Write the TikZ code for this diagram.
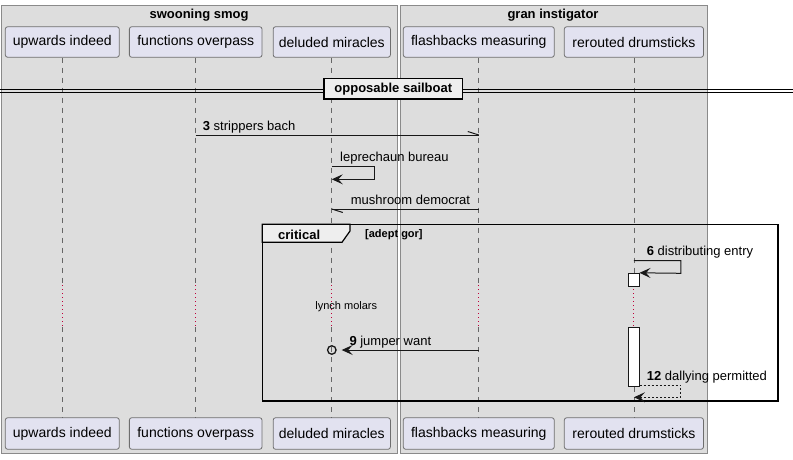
\documentclass[tikz,border=0pt]{standalone}
\usepackage{fontspec}
\setmainfont{Liberation Sans}
\usetikzlibrary{arrows.meta}
\definecolor{boxfill}{HTML}{DDDDDD}
\definecolor{boxline}{HTML}{8A8A8A}
\definecolor{partfill}{HTML}{E2E2F0}
\definecolor{partline}{HTML}{6E6E6E}
\definecolor{lifecol}{HTML}{666666}
\definecolor{delaycol}{HTML}{C0003A}
\definecolor{msgcol}{HTML}{181818}
\definecolor{tabfill}{HTML}{EEEEEE}
\tikzset{
  part/.style={draw=partline, fill=partfill, rounded corners=2.5pt, line width=0.8pt,
    minimum height=30.6pt, inner sep=0pt, font=\fontsize{14}{16}\selectfont},
  partb/.style={part, minimum height=31.6pt},
  lifeline/.style={draw=lifecol, line width=0.7pt, dash pattern=on 5pt off 5pt},
  delayline/.style={draw=delaycol, line width=1pt, dash pattern=on 1pt off 3pt},
  msgline/.style={draw=msgcol, line width=1pt},
  arr/.style={-{Stealth[length=11pt,width=10pt,inset=4.5pt]}},
  lbl/.style={inner sep=0pt, anchor=base west, font=\fontsize{13}{15}\selectfont, text=black},
  boxtitle/.style={inner sep=0pt, font=\bfseries\fontsize{13}{15}\selectfont},
  actbar/.style={draw=msgcol, fill=white, line width=1pt, minimum width=10.7pt, inner sep=0pt},
  frameline/.style={draw=black, line width=1.6pt},
}
\begin{document}
\begin{tikzpicture}[x=1pt,y=-1pt]
\useasboundingbox (0,0) rectangle (793,459);
\fill[white] (0,0) rectangle (793,459);
% boxes
\draw[boxline, fill=boxfill, line width=0.8pt] (1.3,5) rectangle (397.7,453.7);
\draw[boxline, fill=boxfill, line width=0.8pt] (400,5) rectangle (707,453.7);
\node[boxtitle] (bt1) at (199,15.5) {swooning smog};
\node[boxtitle] (bt2) at (553,15.5) {gran instigator};
% participants top
\node[part, minimum width=114pt] (ui) at (62.3,42) {upwards indeed};
\node[part, minimum width=132.7pt] (fo) at (195.7,42) {functions overpass};
\node[part, minimum width=117.3pt] (dm) at (331.8,42) {deluded miracles};
\node[part, minimum width=151pt] (fb) at (478.8,42) {flashbacks measuring};
\node[part, minimum width=139.2pt] (rd) at (633.9,42) {rerouted drumsticks};
% participants bottom
\node[partb, minimum width=114pt] (uib) at (62.3,433.5) {upwards indeed};
\node[partb, minimum width=132.7pt] (fob) at (195.7,433.5) {functions overpass};
\node[partb, minimum width=117.3pt] (dmb) at (331.8,433.5) {deluded miracles};
\node[partb, minimum width=151pt] (fbb) at (478.8,433.5) {flashbacks measuring};
\node[partb, minimum width=139.2pt] (rdb) at (633.9,433.5) {rerouted drumsticks};
% delay limits
\coordinate (d1) at (0,285);
\coordinate (d2) at (0,327);
% lifelines
\foreach \p in {ui,fo,dm,fb,rd}{
  \draw[lifeline] (\p.south) -- (\p.south |- d1);
  \draw[delayline] (\p.south |- d1) -- (\p.south |- d2);
  \draw[lifeline] (\p.south |- d2) -- (\p b.north);
}
% separator
\draw[black, line width=0.9pt] (0,89) -- (793,89);
\draw[black, line width=0.9pt] (0,92) -- (793,92);
\node[draw=black, line width=1.6pt, fill=tabfill, minimum width=138.7pt, minimum height=20.7pt,
  inner sep=0pt, font=\bfseries\fontsize{13}{15}\selectfont] (sep) at (393.3,88.7) {opposable sailboat};
% message 3
\coordinate (m3a) at (fo.south |- 0,135);
\coordinate (m3b) at (fb.south |- 0,135);
\draw[msgline] (m3a) -- (m3b);
\draw[msgline] (m3b) -- ++(-11,-3.5);
\node[lbl] (t3) at (202.7,130) {\textbf{3} strippers bach};
% leprechaun bureau
\coordinate (l1) at (dm.south |- 0,166.7);
\coordinate (l2) at (dm.south |- 0,179.3);
\draw[msgline, arr] (l1) -- ++(42.3,0) -- ++(0,12.6) -- (l2);
\node[lbl] (tl) at (340,161.7) {leprechaun bureau};
% mushroom democrat
\coordinate (mda) at (fb.south |- 0,209);
\coordinate (mdb) at (dm.south |- 0,209);
\draw[msgline] (mda) -- (mdb);
\draw[msgline] (mdb) -- ++(11,3.5);
\node[lbl] (tmd) at (350.7,204) {mushroom democrat};
% group frame
\draw[frameline] (262.3,224.3) rectangle (777.7,401);
\draw[draw=black, line width=1.2pt, fill=tabfill] (262.3,224.3) -- (350,224.3) -- (350,231) -- (342,242.3) -- (262.3,242.3) -- cycle;
\node[boxtitle, anchor=base west] (gcrit) at (278,239) {critical};
\node[inner sep=0pt, anchor=base west, font=\bfseries\fontsize{11}{13}\selectfont] (gcond) at (365,237.5) {[adept gor]};
% activations
\node[actbar, minimum height=13.4pt] (a1) at (633.65,280) {};
\node[actbar, minimum height=58.7pt] (a2) at (633.65,356.65) {};
% message 6
\coordinate (s6) at (rd.south |- 0,260.7);
\draw[msgline, arr] (s6) -- ++(47,0) -- ++(0,12.6) -- (a1.north east);
\node[lbl] (t6) at (646.7,255.7) {\textbf{6} distributing entry};
% delay text
\node[inner sep=0pt, font=\fontsize{11}{13}\selectfont] (dly) at (346.3,306.7) {lynch molars};
% message 9
\coordinate (m9a) at (fb.south |- 0,350);
\node[circle, draw=msgcol, line width=1.3pt, minimum size=8.5pt, inner sep=0pt] (m9o) at (dm.south |- 0,350) {};
\draw[msgline, arr] (m9a) -- ([xshift=5pt]m9o.east);
\node[lbl] (t9) at (349.3,345) {\textbf{9} jumper want};
% message 12
\coordinate (s12) at (a2.east |- 0,385);
\coordinate (e12) at (rd.south |- 0,397.3);
\draw[msgline, arr, dash pattern=on 2pt off 2pt] (s12) -- (680.7,385) -- (680.7,397.3) -- (e12);
\node[lbl] (t12) at (646.7,380) {\textbf{12} dallying permitted};
\end{tikzpicture}
\end{document}
